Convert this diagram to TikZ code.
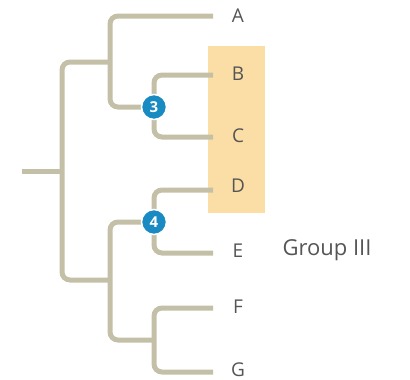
\documentclass[tikz,border=0pt]{standalone}
\usepackage{fontspec}
\setmainfont{Open Sans}
\begin{document}
\begin{tikzpicture}[x=1pt,y=-1pt,
  branch/.style={draw=treec,line width=5pt,rounded corners=8pt},
  tip/.style={text=labc,font=\fontsize{19}{19}\selectfont,anchor=center},
  badge/.style={circle,fill=badgec,draw=white,line width=1.5pt,minimum size=25pt,inner sep=0pt,text=white,font=\bfseries\fontsize{15}{15}\selectfont}]
\definecolor{treec}{HTML}{C4C0A8}
\definecolor{labc}{HTML}{555555}
\definecolor{badgec}{HTML}{1A8BC2}
\definecolor{boxc}{HTML}{FBDEA6}
\useasboundingbox (0,0) rectangle (410,380);
\fill[boxc] (208,46) rectangle (265,213);
% coordinates
\coordinate (root) at (22,171);
\coordinate (r) at (62,171);
\coordinate (u) at (110,62);
\coordinate (l) at (110,280);
\coordinate (bc) at (154,107);
\coordinate (de) at (154,222);
\coordinate (fg) at (154,340);
\coordinate (ta) at (213,16);
\coordinate (tb) at (213,75);
\coordinate (tc) at (213,137);
\coordinate (td) at (213,190);
\coordinate (te) at (213,253);
\coordinate (tf) at (213,308);
\coordinate (tg) at (213,372);
% branches
\draw[branch] (root) -- (r);
\draw[branch] (u) -- (r |- u) -- (r |- l) -- (l);
\draw[branch] (ta) -- (u |- ta) -- (u |- bc) -- (bc);
\draw[branch] (fg) -- (l |- fg) -- (l |- de) -- (de);
\draw[branch] (tb) -- (bc |- tb) -- (bc |- tc) -- (tc);
\draw[branch] (td) -- (de |- td) -- (de |- te) -- (te);
\draw[branch] (tf) -- (fg |- tf) -- (fg |- tg) -- (tg);
% badges
\node[badge] (b3) at (bc) {3};
\node[badge] (b4) at (de) {4};
% labels
\node[tip] (A) at (238,16) {A};
\node[tip] (B) at (238,74) {B};
\node[tip] (C) at (238,136) {C};
\node[tip] (D) at (238,186) {D};
\node[tip] (E) at (238,251) {E};
\node[tip] (F) at (238,307) {F};
\node[tip] (G) at (238,370) {G};
\node[tip,font=\fontsize{22}{22}\selectfont] (grp) at (327,250) {Group III};
\end{tikzpicture}
\end{document}
